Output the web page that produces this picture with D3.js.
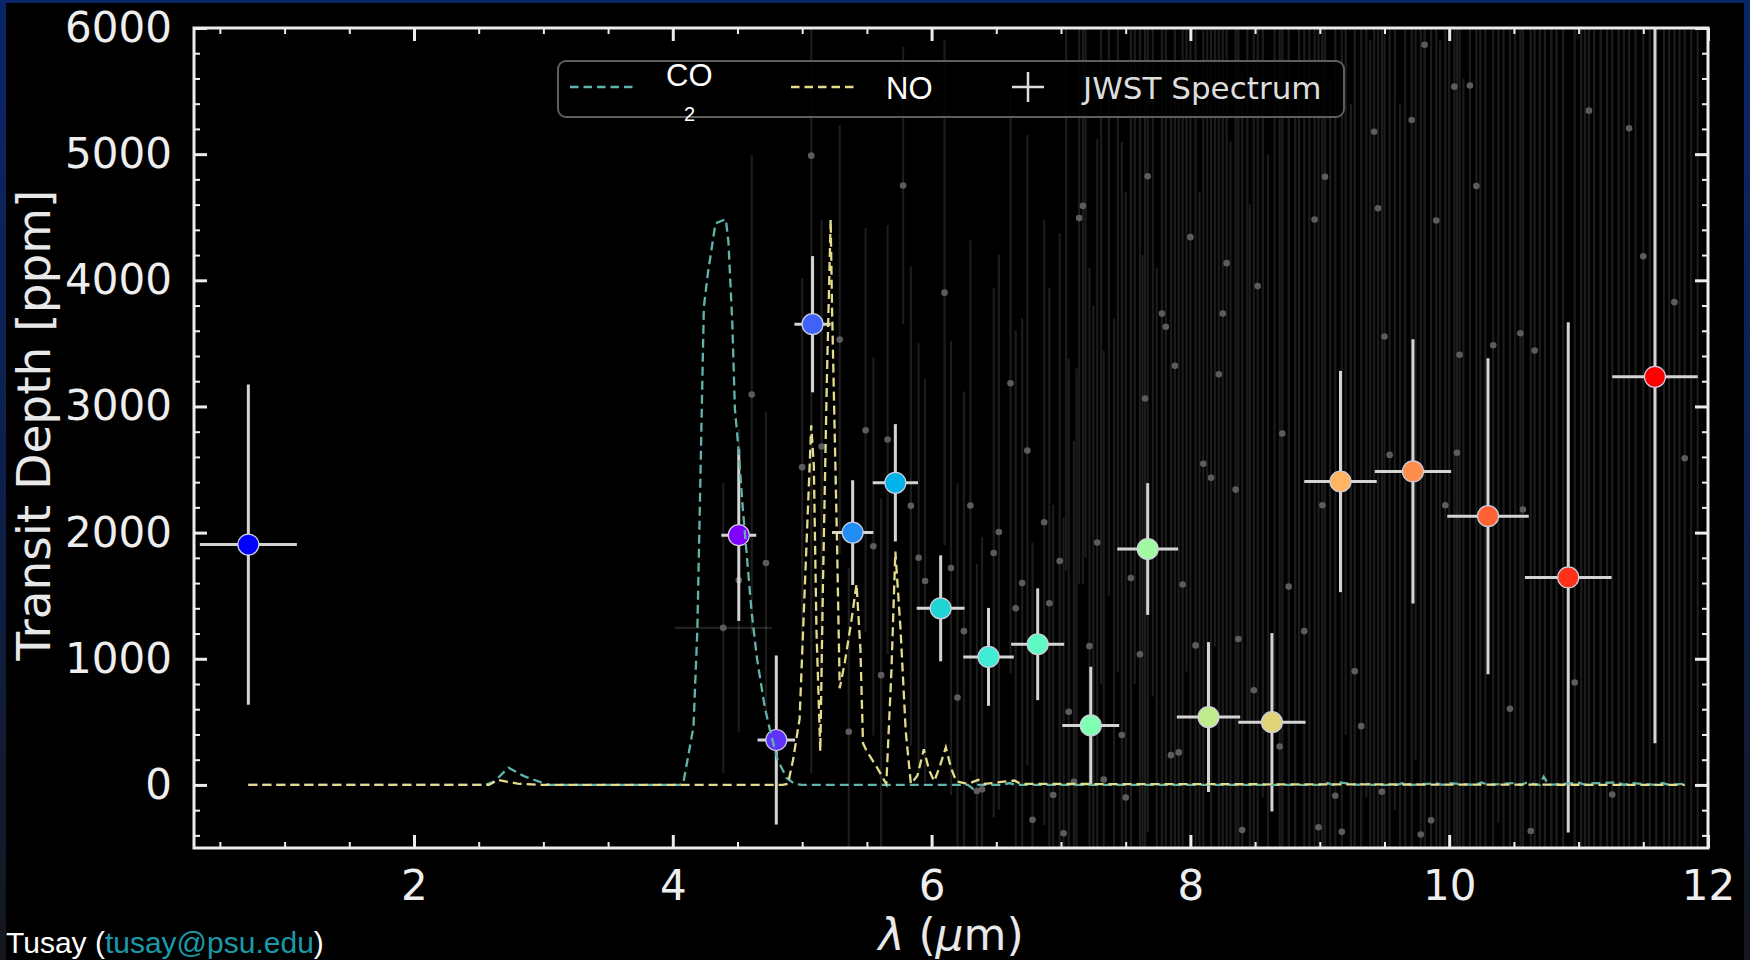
<!DOCTYPE html>
<html><head><meta charset="utf-8">
<script src="https://cdn.jsdelivr.net/npm/d3@7"></script>
<style>
html,body{margin:0;padding:0;background:#000;}
svg{display:block;}
</style></head><body>
<svg id="chart" width="1750" height="960"></svg>
<script>
// ---------- DATA ----------
// Binned JWST points
const binX    = [0.72, 4.51, 4.80, 5.08, 5.39, 5.72, 6.07, 6.44, 6.82, 7.23, 7.67, 8.14, 8.63, 9.16, 9.72, 10.30, 10.92, 11.59];
const binY    = [1905, 1980, 356, 3652, 2000, 2395, 1400, 1015, 1115, 472, 1870, 538, 497, 2405, 2485, 2130, 1645, 3235];
const binXerr = [0.375, 0.135, 0.145, 0.14, 0.16, 0.175, 0.185, 0.195, 0.205, 0.22, 0.235, 0.245, 0.26, 0.28, 0.295, 0.315, 0.335, 0.33];
const binYerr = [1270, 680, 670, 540, 415, 465, 420, 388, 443, 465, 522, 594, 707, 877, 1047, 1252, 2022, 2904];
const binColors = ["#0000ff","#8000ff","#6032fe","#4062fa","#208ef4","#00b4eb","#20d4d4","#40ecd4","#60fac5","#80ffb4","#a0faa2","#c0ec8e","#dfd478","#ffb462","#ff8e4a","#ff6232","#ff3219","#ff0000"];

// Full-resolution spectrum (faint grey)
const specX = [4.39,4.51,4.61,4.72,5.00,5.07,5.15,5.29,5.36,5.49,5.55,5.61,5.66,5.78,5.84,5.90,5.95,6.10,6.15,6.20,6.25,6.30,6.35,6.39,6.48,6.52,6.61,6.65,6.70,6.74,6.78,6.87,6.91,6.94,6.99,7.02,7.06,7.10,7.14,7.17,7.22,7.28,7.33,7.47,7.50,7.54,7.61,7.65,7.67,7.78,7.81,7.85,7.88,7.91,7.94,8.00,8.04,8.10,8.16,8.22,8.25,8.28,8.35,8.37,8.40,8.49,8.52,8.69,8.71,8.76,8.88,8.96,8.99,9.02,9.04,9.12,9.17,9.27,9.32,9.42,9.45,9.48,9.50,9.54,9.71,9.78,9.81,9.86,9.90,9.97,10.04,10.06,10.08,10.16,10.21,10.34,10.47,10.55,10.57,10.63,10.66,10.97,11.08,11.26,11.39,11.50,11.74,11.82,
  7.04,7.12,7.19,7.25,7.31,7.37,7.41,7.44,7.57,7.63,7.71,7.74,7.97,8.07,8.13,8.19,8.31,8.44,8.46,8.56,8.60,8.65,8.81,8.84,8.92,9.08,9.20,9.24,9.36,9.39,9.58,9.62,9.66,9.74,9.93,10.00,10.11,10.24,10.28,10.38,10.42,10.51,10.70,10.74,10.79,10.83,10.88,11.02,11.05,11.12,11.17,11.22,11.31,11.35,11.44,11.55,11.60,11.66,11.70,11.78,11.87,11.92];
const specY = [1245,1623,3094,1759,2519,4988,2683,3530,421,2812,1892,870,2738,4751,2212,1801,1617,3902,1720,692,1219,2215,-48,-35,1839,2005,3184,1400,1600,2651,-277,2082,1440,-80,1775,-383,580,24,4493,4590,1100,1921,42,396,-100,1640,1036,3063,4825,3736,3631,236,3322,258,1589,4342,1106,2545,2435,3255,3736,4136,2341,1157,-357,750,3954,305,2786,1572,1219,4482,-335,2217,4820,-86,-372,902,466,5178,4571,-54,3554,2616,5271,-393,5867,-280,4474,2217,5535,2633,3410,5544,4748,3485,603,3580,2183,-365,3444,812,5345,-76,5205,4191,3827,2590,
  6900,-1500,7400,-1200,6600,7800,-1700,6800,7200,-1400,6900,-1900,7500,-1600,6700,7900,-1300,7100,-2100,6800,-1500,7600,-1800,7300,6600,-1400,7700,-2000,7000,-1600,7400,-1900,6900,8000,-1700,7300,-2200,6800,-1500,7600,6600,-1800,7100,-2000,7900,-1300,6700,-1700,7500,6900,-2100,7800,-1400,7200,-1900,6800,-1600,7600,-2000,7000,7400,-1500];
const specYerr = [1150,1200,1900,1200,1500,4900,1800,1700,1300,1600,1500,1400,1700,1100,1900,1700,1600,2000,1800,1700,1900,2100,1800,2000,2100,2200,2300,2200,2100,2500,2200,2400,2500,2300,2600,2500,2800,2700,2900,3000,3000,3200,3400,4700,4800,4900,5000,5100,5200,5300,5200,5400,5500,5400,5600,5600,5700,5800,5700,5900,6000,5800,6000,6100,6000,6200,6100,6300,6200,6400,6500,6300,6500,6600,6400,6700,6500,6800,6800,6900,6700,7000,7000,7100,7200,7000,7300,7200,7400,7300,7500,7400,7600,7500,7700,7800,7900,8000,7800,8000,8100,8200,8300,8400,8500,8600,8800,9000,
  5200,4800,5600,5000,5800,6300,5400,5900,6400,5600,6200,6000,6600,6300,6100,6800,6400,6600,6700,6900,6500,7000,7100,6800,7200,7000,7300,7400,7100,7500,7600,7300,7700,7800,7600,7900,7800,8000,8100,7900,8200,8000,8300,8100,8400,8200,8500,8300,8600,8400,8700,8500,8800,8600,8900,8700,9000,8800,9100,8900,9200,9000];
const specXerr = [0.375];  // only the first spectrum point carries a visible wavelength bar

// Model spectra
const co2X = [0.72,2.55,2.62,2.73,2.85,3.00,3.05,4.05,4.08,4.16,4.19,4.24,4.27,4.33,4.41,4.43,4.46,4.48,4.51,4.54,4.58,4.61,4.65,4.71,4.76,4.81,4.88,4.94,5.00,6.28,6.32,6.36,6.55,6.60,6.65,9.00,9.05,9.10,9.15,9.30,9.35,9.40,9.60,9.65,9.70,9.90,9.95,10.00,10.20,10.25,10.30,10.50,10.55,10.60,10.70,10.73,10.77,11.00,11.05,11.10,11.30,11.35,11.40,11.60,11.65,11.70,11.82];
const co2Y = [0,0,26,137,70,13,0,0,8,460,1236,3788,4047,4452,4484,4305,3659,2980,2641,2204,1720,1364,1008,620,394,200,55,8,0,0,-30,0,0,15,0,0,18,0,20,0,15,0,0,18,0,12,0,14,0,20,0,15,0,18,0,65,0,18,0,12,20,0,15,0,15,0,10];
const noX = [0.72,2.58,2.65,2.80,3.00,4.85,4.89,4.93,4.98,5.02,5.07,5.09,5.11,5.14,5.16,5.19,5.22,5.23,5.25,5.27,5.29,5.33,5.38,5.42,5.45,5.47,5.50,5.58,5.65,5.69,5.72,5.76,5.80,5.84,5.89,5.94,5.98,6.02,6.06,6.11,6.15,6.19,6.28,6.36,6.41,6.64,6.69,11.82];
const noY = [0,0,40,10,0,0,8,201,524,1560,2851,2530,1236,266,1560,3176,4483,3820,2850,1880,767,975,1300,1592,1075,330,266,136,8,913,1850,1235,427,8,72,282,120,29,136,298,136,29,8,40,8,35,8,0];

// Axis ticks
const xMajor = [2,4,6,8,10,12];
const yMajor = [0,1000,2000,3000,4000,5000,6000];
const xMinor = [0.5,1,1.5,2.5,3,3.5,4.5,5,5.5,6.5,7,7.5,8.5,9,9.5,10.5,11,11.5];
const yMinor = [-400,-200,200,400,600,800,1200,1400,1600,1800,2200,2400,2600,2800,3200,3400,3600,3800,4200,4400,4600,4800,5200,5400,5600,5800];

// ---------- DRAW ----------
const W = 1750, H = 960;
const svg = d3.select('#chart');
const defs = svg.append('defs');
const g0 = defs.append('linearGradient').attr('id','bg').attr('x1',0).attr('y1',0).attr('x2',0).attr('y2',1);
g0.append('stop').attr('offset','0%').attr('stop-color','#0a2568');
g0.append('stop').attr('offset','55%').attr('stop-color','#0e1f48');
g0.append('stop').attr('offset','100%').attr('stop-color','#15171c');
svg.append('rect').attr('width',W).attr('height',H).attr('fill','url(#bg)');
svg.append('rect').attr('x',6).attr('y',3).attr('width',1738).attr('height',H-3).attr('fill','#000');

const m = {l:194, r:1708, t:28, b:848};
const x = d3.scaleLinear().domain([0.3,12]).range([m.l,m.r]);
const y = d3.scaleLinear().domain([-500,6000]).range([m.b,m.t]);

defs.append('clipPath').attr('id','clip').append('rect')
  .attr('x',m.l).attr('y',m.t).attr('width',m.r-m.l).attr('height',m.b-m.t);

const plot = svg.append('g').attr('clip-path','url(#clip)');

// faint spectrum error bars
const spec = specX.map((v,i)=>({x:v,y:specY[i],e:specYerr[i],xe:specXerr[i]||0}));
plot.append('g').selectAll('line').data(spec).join('line')
  .attr('x1',d=>x(d.x)).attr('x2',d=>x(d.x))
  .attr('y1',d=>y(d.y-d.e)).attr('y2',d=>y(d.y+d.e))
  .attr('stroke','#ffffff').attr('stroke-opacity',0.11).attr('stroke-width',2.2);
plot.append('g').selectAll('line').data(spec.filter(d=>d.xe>0)).join('line')
  .attr('x1',d=>x(d.x-d.xe)).attr('x2',d=>x(d.x+d.xe))
  .attr('y1',d=>y(d.y)).attr('y2',d=>y(d.y))
  .attr('stroke','#ffffff').attr('stroke-opacity',0.13).attr('stroke-width',2.2);
plot.append('g').selectAll('circle').data(spec).join('circle')
  .attr('cx',d=>x(d.x)).attr('cy',d=>y(d.y)).attr('r',3.3)
  .attr('fill','#5c5c5c');

// binned points
const bins = binX.map((v,i)=>({x:v,y:binY[i],xe:binXerr[i],ye:binYerr[i],c:binColors[i]}));
const eb = plot.append('g');
eb.selectAll('line.v').data(bins).join('line').attr('class','v')
  .attr('x1',d=>x(d.x)).attr('x2',d=>x(d.x))
  .attr('y1',d=>y(d.y-d.ye)).attr('y2',d=>y(d.y+d.ye))
  .attr('stroke','#d4d4d4').attr('stroke-width',3);
eb.selectAll('line.h').data(bins).join('line').attr('class','h')
  .attr('x1',d=>x(d.x-d.xe)).attr('x2',d=>x(d.x+d.xe))
  .attr('y1',d=>y(d.y)).attr('y2',d=>y(d.y))
  .attr('stroke','#d4d4d4').attr('stroke-width',3);
plot.append('g').selectAll('circle').data(bins).join('circle')
  .attr('cx',d=>x(d.x)).attr('cy',d=>y(d.y)).attr('r',10.5)
  .attr('fill',d=>d.c).attr('stroke','#cfcfe0').attr('stroke-width',1.2);

// model lines
const line = d3.line().x(d=>x(d[0])).y(d=>y(d[1]));
plot.append('path').datum(co2X.map((v,i)=>[v,co2Y[i]])).attr('d',line)
  .attr('fill','none').attr('stroke','#5fb5ab').attr('stroke-width',2.3).attr('stroke-dasharray','9,5');
plot.append('path').datum(noX.map((v,i)=>[v,noY[i]])).attr('d',line)
  .attr('fill','none').attr('stroke','#e3dc8c').attr('stroke-width',2.3).attr('stroke-dasharray','9,5');

// axes
const axCol = '#ececec';
function styleAxis(g, w){
  g.select('.domain').remove();
  g.selectAll('.tick line').attr('stroke',axCol).attr('stroke-width',w);
  g.selectAll('.tick text').attr('fill','#eeeeee').attr('font-family','DejaVu Sans, sans-serif').attr('font-size',42);
}
svg.append('g').attr('transform',`translate(0,${m.b})`)
  .call(d3.axisBottom(x).tickValues(xMajor).tickSize(-13).tickPadding(22).tickFormat(d3.format('d')))
  .call(g=>styleAxis(g,3));
svg.append('g').attr('transform',`translate(0,${m.b})`)
  .call(d3.axisBottom(x).tickValues(xMinor).tickSize(-6).tickFormat(''))
  .call(g=>styleAxis(g,2));
svg.append('g').attr('transform',`translate(0,${m.t})`)
  .call(d3.axisTop(x).tickValues(xMajor).tickSize(-13).tickFormat(''))
  .call(g=>styleAxis(g,3));
svg.append('g').attr('transform',`translate(0,${m.t})`)
  .call(d3.axisTop(x).tickValues(xMinor).tickSize(-6).tickFormat(''))
  .call(g=>styleAxis(g,2));
svg.append('g').attr('transform',`translate(${m.l},0)`)
  .call(d3.axisLeft(y).tickValues(yMajor).tickSize(-13).tickPadding(22).tickFormat(d3.format('d')))
  .call(g=>styleAxis(g,3));
svg.append('g').attr('transform',`translate(${m.l},0)`)
  .call(d3.axisLeft(y).tickValues(yMinor).tickSize(-6).tickFormat(''))
  .call(g=>styleAxis(g,2));
svg.append('g').attr('transform',`translate(${m.r},0)`)
  .call(d3.axisRight(y).tickValues(yMajor).tickSize(-13).tickFormat(''))
  .call(g=>styleAxis(g,3));
svg.append('g').attr('transform',`translate(${m.r},0)`)
  .call(d3.axisRight(y).tickValues(yMinor).tickSize(-6).tickFormat(''))
  .call(g=>styleAxis(g,2));
svg.append('rect').attr('x',m.l).attr('y',m.t).attr('width',m.r-m.l).attr('height',m.b-m.t)
  .attr('fill','none').attr('stroke',axCol).attr('stroke-width',3);

// axis titles
svg.append('text').attr('transform',`translate(50,425) rotate(-90)`)
  .attr('text-anchor','middle').attr('font-family','DejaVu Sans, sans-serif').attr('font-size',47)
  .attr('fill','#e8e8e8').text('Transit Depth [ppm]');
const xt = svg.append('text').attr('x',951).attr('y',950).attr('text-anchor','middle')
  .attr('font-family','DejaVu Sans, sans-serif').attr('font-size',44).attr('fill','#e8e8e8');
xt.append('tspan').attr('font-style','italic').text('λ');
xt.append('tspan').text(' (');
xt.append('tspan').attr('font-style','italic').text('μ');
xt.append('tspan').text('m)');

// legend
const lg = svg.append('g');
lg.append('rect').attr('x',558).attr('y',61).attr('width',786).attr('height',56).attr('rx',8)
  .attr('fill','#000').attr('fill-opacity',0.85).attr('stroke','#5e5e5e').attr('stroke-width',2);
lg.append('line').attr('x1',570).attr('x2',633).attr('y1',87).attr('y2',87)
  .attr('stroke','#5fb5ab').attr('stroke-width',2.6).attr('stroke-dasharray','8.5,5');
lg.append('text').attr('x',666).attr('y',86).attr('font-family','Liberation Sans, Arial, sans-serif')
  .attr('font-size',31).attr('fill','#ffffff').text('CO');
lg.append('text').attr('x',684).attr('y',121).attr('font-family','Liberation Sans, Arial, sans-serif')
  .attr('font-size',20).attr('fill','#ffffff').text('2');
lg.append('line').attr('x1',791).attr('x2',854).attr('y1',87).attr('y2',87)
  .attr('stroke','#e3dc8c').attr('stroke-width',2.6).attr('stroke-dasharray','8.5,5');
lg.append('text').attr('x',886).attr('y',99).attr('font-family','Liberation Sans, Arial, sans-serif')
  .attr('font-size',31).attr('fill','#ffffff').text('NO');
lg.append('line').attr('x1',1012).attr('x2',1044).attr('y1',87).attr('y2',87).attr('stroke','#dddddd').attr('stroke-width',2.5);
lg.append('line').attr('x1',1028).attr('x2',1028).attr('y1',72).attr('y2',102).attr('stroke','#dddddd').attr('stroke-width',2.5);
lg.append('text').attr('x',1083).attr('y',99).attr('font-family','DejaVu Sans, sans-serif')
  .attr('font-size',31).attr('fill','#dddddd').text('JWST Spectrum');

// footer
const ft = svg.append('text').attr('x',6).attr('y',953).attr('font-family','Liberation Sans, Arial, sans-serif')
  .attr('font-size',30).attr('fill','#ffffff');
ft.append('tspan').text('Tusay (');
ft.append('tspan').attr('fill','#1a9aa9').text('tusay@psu.edu');
ft.append('tspan').text(')');
</script>
</body></html>
